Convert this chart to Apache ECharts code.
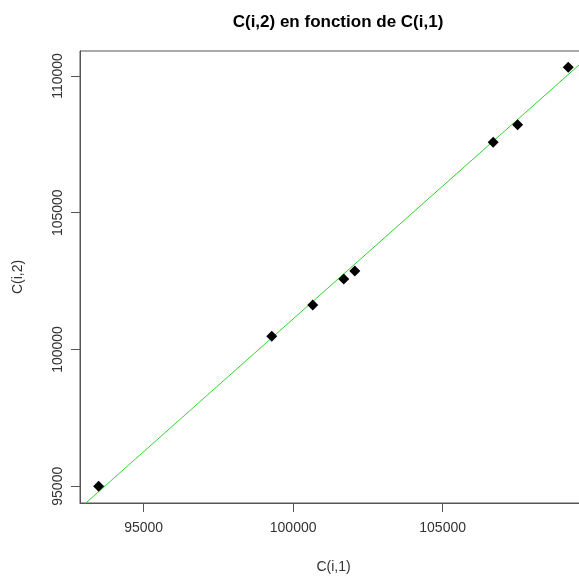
<!DOCTYPE html>
<html>
<head>
<meta charset="utf-8">
<script src="https://cdn.jsdelivr.net/npm/echarts@6/dist/echarts.min.js"></script>
<style>html,body{margin:0;padding:0;background:#fff;}#c{width:579px;height:581px;}</style>
</head>
<body>
<div id="c"></div>
<script>
const titleText = 'C(i,2) en fonction de C(i,1)';
const xName = 'C(i,1)';
const yName = 'C(i,2)';
const c1 = [93494, 99284, 100656, 101693, 102062, 106690, 107507, 109201];
const c2 = [95000, 100488, 101623, 102574, 102867, 107576, 108220, 110318];
const lineX = [92800, 110000];
const lineY = [94127, 110828];
const xTicks = [95000, 100000, 105000];
const yTicks = [95000, 100000, 105000, 110000];
const xRange = [92872, 109828];
const yRange = [94388, 110912];

const pts = c1.map((v, i) => [v, c2[i]]);
const linePts = lineX.map((v, i) => [v, lineY[i]]);

const chart = echarts.init(document.getElementById('c'), null, {renderer: 'canvas'});
const axisCol = '#555';
const txtCol = '#333';
chart.setOption({
  animation: false,
  backgroundColor: '#fff',
  title: {
    text: titleText, left: 333, top: 9, textAlign: 'center',
    textStyle: {fontFamily: 'Liberation Sans', fontWeight: 'bold', fontSize: 17, color: '#000'}
  },
  grid: {left: 80, top: 51, right: -8, bottom: 78, show: true, borderColor: axisCol, borderWidth: 1,
         backgroundColor: 'transparent', containLabel: false, outerBoundsMode: 'none'},
  xAxis: {
    type: 'value', min: xRange[0], max: xRange[1],
    name: xName, nameLocation: 'middle', nameGap: 57,
    nameTextStyle: {fontFamily: 'Liberation Sans', fontSize: 14, color: txtCol},
    splitLine: {show: false},
    axisLine: {show: true, onZero: false, lineStyle: {color: axisCol}},
    axisTick: {show: true, length: 9, lineStyle: {color: axisCol}, customValues: xTicks},
    axisLabel: {customValues: xTicks, margin: 18, fontFamily: 'Liberation Sans', fontSize: 14, color: txtCol,
                formatter: v => String(v)}
  },
  yAxis: {
    type: 'value', min: yRange[0], max: yRange[1],
    name: yName, nameLocation: 'middle', nameGap: 55, nameRotate: 90,
    nameTextStyle: {fontFamily: 'Liberation Sans', fontSize: 14, color: txtCol},
    splitLine: {show: false},
    axisLine: {show: true, onZero: false, lineStyle: {color: axisCol}},
    axisTick: {show: true, length: 9, lineStyle: {color: axisCol}, customValues: yTicks},
    axisLabel: {customValues: yTicks, rotate: 90, margin: 22, fontFamily: 'Liberation Sans', fontSize: 14, color: txtCol,
                verticalAlign: 'middle', align: 'center', formatter: v => String(v)}
  },
  series: [
    {
      type: 'line', data: linePts, symbol: 'none', clip: true,
      lineStyle: {color: '#2ed62e', width: 1}, z: 2
    },
    {
      type: 'scatter', data: pts, symbol: 'diamond', symbolSize: [11, 11],
      itemStyle: {color: '#000', opacity: 1}, z: 3
    }
  ]
});
</script>
</body>
</html>
